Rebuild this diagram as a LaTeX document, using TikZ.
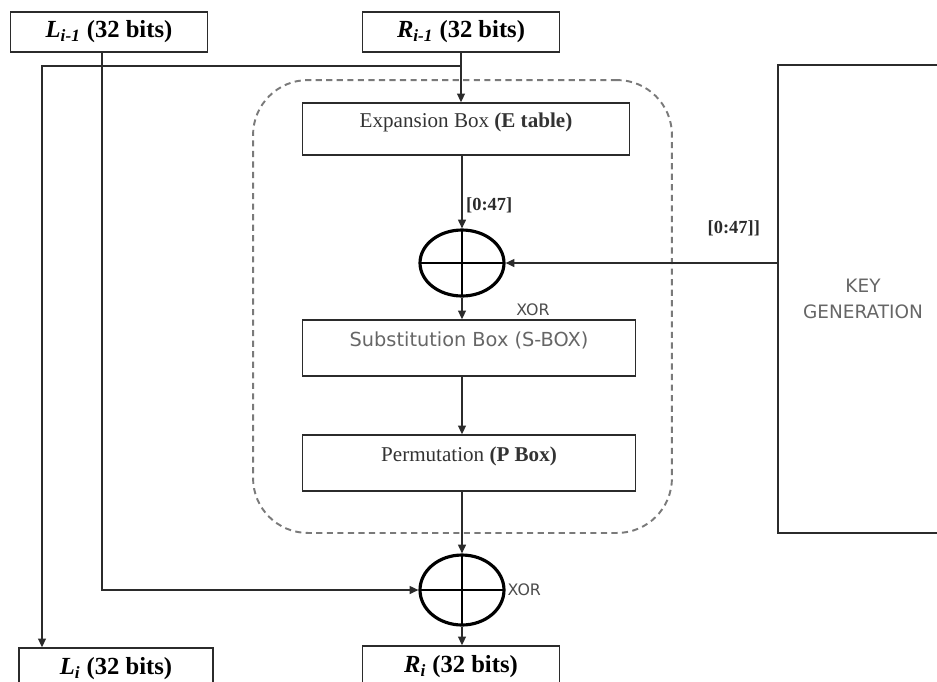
\documentclass[tikz,border=0pt]{standalone}
\usepackage{fontspec}
\setmainfont{Liberation Serif}
\newfontfamily\guisans{DejaVu Sans}
\usetikzlibrary{shapes.geometric, arrows.meta, positioning, calc}
\definecolor{RoundGray}{HTML}{7A7A7A}
\definecolor{LineDark}{HTML}{2B2B2B}

\begin{document}
\begin{tikzpicture}[x=0.02cm, y=-0.02cm, >={Triangle[length=5pt, width=4.5pt]},
        half/.style={rectangle, draw=LineDark, line width=0.8pt, minimum width=3.94cm, minimum height=0.8cm, font=\fontsize{14}{16}\selectfont\bfseries},
        box/.style={rectangle, draw=LineDark, line width=0.8pt, minimum height=1.04cm, text height=9pt, text depth=11pt, font=\fontsize{12}{14}\selectfont, text=black!80},
        guibox/.style={box, font=\guisans\fontsize{11}{13}\selectfont, text=black!60},
        keybox/.style={rectangle, draw=LineDark, line width=0.8pt, minimum width=3.4cm, minimum height=9.36cm, align=center, font=\guisans\fontsize{10.5}{15}\selectfont, text=black!60},
        xorring/.style={ellipse, draw=black, line width=1.8pt, minimum width=1.68cm, minimum height=1.32cm, inner sep=0pt,
            path picture={\draw[line width=1.4pt] (path picture bounding box.north) -- (path picture bounding box.south)
                (path picture bounding box.west) -- (path picture bounding box.east);}},
        tag/.style={font=\fontsize{10.5}{12}\selectfont\bfseries, inner sep=2pt},
        xortag/.style={font=\guisans\fontsize{9}{10}\selectfont, text=black!70, inner sep=1pt},
        round/.style={rectangle, draw=RoundGray, line width=1.1pt, dash pattern=on 3.5pt off 2.5pt, rounded corners=1.1cm, minimum width=8.38cm, minimum height=9.06cm},
        arrow/.style={->, line width=0.8pt, LineDark}]

        \useasboundingbox (0,0) rectangle (937,681);
        \clip (0,0) rectangle (937,681);

        % round function frame
        \node[round] (feistel) at (462.5,306.5) {};

        \node[half] (li1) at (109,32) {\textit{L}\textsubscript{\textit{i-1}} (32 bits)};
        \node[half] (ri1) at (461,32) {\textit{R}\textsubscript{\textit{i-1}} (32 bits)};

        \node[box, minimum width=6.54cm] (ebox) at (466,129) {Expansion Box \textbf{(E table)}};
        \node[xorring] (xor1) at (462,263) {};
        \node[guibox, minimum width=6.66cm, minimum height=1.12cm] (sbox) at (469,348) {Substitution Box (S-BOX)};
        \node[box, minimum width=6.66cm, minimum height=1.12cm] (pbox) at (469,463) {Permutation \textbf{(P Box)}};
        \node[xorring, minimum height=1.4cm] (xor2) at (462,590) {};

        \node[keybox] (keygen) at (863,299) {KEY\\GENERATION};

        \node[half, minimum width=3.88cm, minimum height=0.84cm] (li) at (116,669) {\textit{L}\textsubscript{\textit{i}} (32 bits)};
        \node[half, minimum width=3.94cm, minimum height=0.84cm] (ri) at (461,667) {\textit{R}\textsubscript{\textit{i}} (32 bits)};

        \node[xortag] (xorA) at (533,310) {XOR};
        \node[xortag, right=0pt of xor2.east] (xorB) {XOR};

        % R(i-1) into the round and over to L(i)
        \coordinate (tap) at (461,66);
        \coordinate (lcol) at (42,66);
        \draw[arrow] (ri1.south) -- (ri1.south |- ebox.north);
        \draw[arrow] (tap) -- (lcol) -- (lcol |- li.north);

        \draw[arrow] (ebox.south -| xor1) -- node[pos=0.68, right, tag] {[0:47]} (xor1.north);
        \draw[arrow] (keygen.west |- xor1.east) -- node[pos=0.16, above=0.45cm, tag] {[0:47]]} (xor1.east);
        \draw[arrow] (xor1.south) -- (xor1.south |- sbox.north);
        \draw[arrow] (sbox.south -| xor1) -- (pbox.north -| xor1);
        \draw[arrow] (pbox.south -| xor1) -- (xor2.north);

        % L(i-1) xor f
        \draw[arrow] ([xshift=-0.14cm]li1.south) |- (xor2.west);
        \draw[arrow] (xor2.south) -- (xor2.south |- ri.north);
    \end{tikzpicture}
\end{document}
